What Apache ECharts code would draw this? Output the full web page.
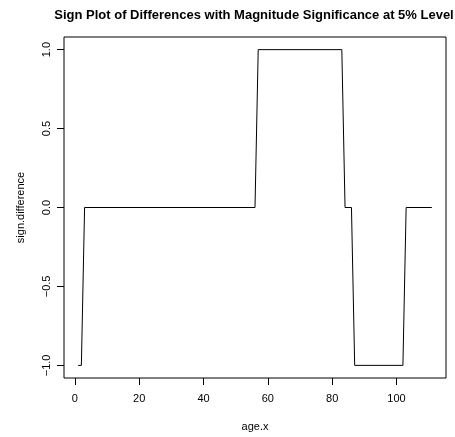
<!DOCTYPE html>
<html>
<head>
<meta charset="utf-8">
<script src="https://cdn.jsdelivr.net/npm/echarts@6/dist/echarts.min.js"></script>
<style>
  html, body { margin: 0; padding: 0; background: #fff; }
  #chart { width: 455px; height: 437px; }
</style>
</head>
<body>
<div id="chart"></div>
<script>
// breakpoints of the sign step line (age.x, sign.difference)
const ageX = [1, 2, 3, 56, 57, 83, 84, 86, 87, 102, 103, 111];
const signDiff = [-1, -1, 0, 0, 1, 1, 0, 0, -1, -1, 0, 0];
const xTicks = [0, 20, 40, 60, 80, 100];
const yTicks = [-1, -0.5, 0, 0.5, 1];

const font = 'Liberation Sans, Arial, Helvetica, sans-serif';
const chart = echarts.init(document.getElementById('chart'));

const option = {
  animation: false,
  backgroundColor: '#fff',
  title: {
    text: 'Sign Plot of Differences with Magnitude Significance at 5% Level',
    left: 254,
    top: 9,
    padding: 0,
    textAlign: 'center',
    textStyle: { fontFamily: font, fontSize: 13, fontWeight: 'bold', color: '#000' }
  },
  grid: {
    left: 64, right: 9, top: 37, bottom: 59,
    show: true, borderColor: '#000', borderWidth: 1, backgroundColor: 'transparent'
  },
  xAxis: {
    type: 'value',
    min: -3.4, max: 115.4,
    name: 'age.x',
    nameLocation: 'middle',
    nameGap: 43,
    nameTextStyle: { fontFamily: font, fontSize: 11, color: '#000' },
    axisLine: { show: false, onZero: false },
    splitLine: { show: false },
    axisTick: { show: true, length: 7, lineStyle: { color: '#000' }, customValues: xTicks },
    axisLabel: { fontFamily: font, fontSize: 11, color: '#000', margin: 15, customValues: xTicks }
  },
  yAxis: {
    type: 'value',
    min: -1.08, max: 1.08,
    name: 'sign.difference',
    nameLocation: 'middle',
    nameGap: 38,
    nameTextStyle: { fontFamily: font, fontSize: 11, color: '#000' },
    axisLine: { show: false, onZero: false },
    splitLine: { show: false },
    axisTick: { show: true, length: 7, lineStyle: { color: '#000' }, customValues: yTicks },
    axisLabel: {
      fontFamily: font, fontSize: 11, color: '#000', margin: 12, rotate: 90,
      customValues: yTicks,
      formatter: v => v.toFixed(1).replace('-', '\u2212')
    }
  },
  series: [{
    type: 'line',
    data: ageX.map((x, i) => [x, signDiff[i]]),
    showSymbol: false,
    lineStyle: { color: '#000', width: 1 }
  }]
};
chart.setOption(option);
</script>
</body>
</html>
